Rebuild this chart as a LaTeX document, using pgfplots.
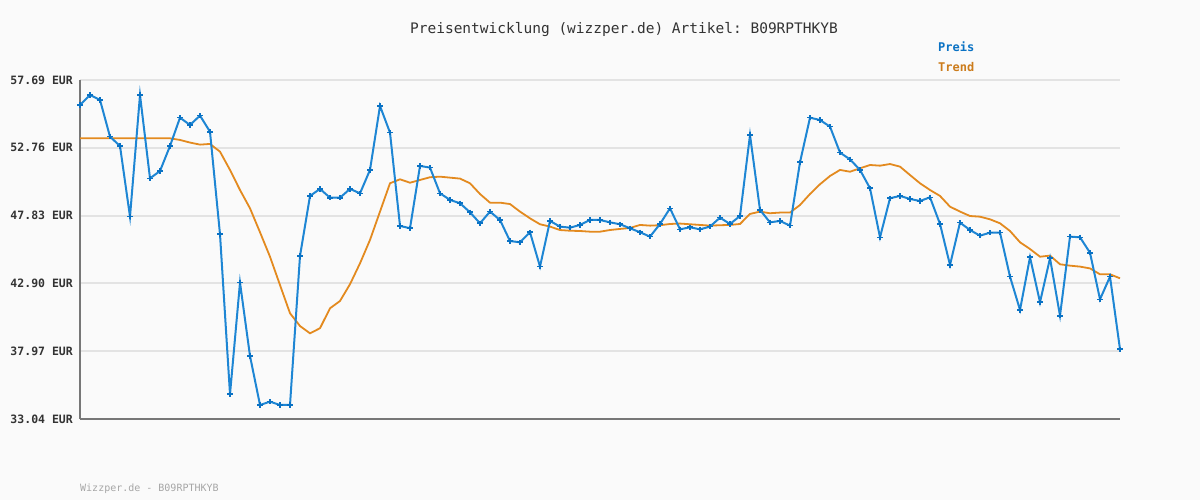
\documentclass[border=0pt]{standalone}
\usepackage{fontspec}
\setmonofont{DejaVu Sans Mono}
\usepackage{pgfplots}
\pgfplotsset{compat=1.18}
\usepackage{pgfplotstable}
\definecolor{bgc}{HTML}{FAFAFA}
\definecolor{gridc}{HTML}{E3E3E3}
\definecolor{axc}{HTML}{777777}
\definecolor{bluec}{HTML}{1E86D4}
\definecolor{bluem}{HTML}{0A72C4}
\definecolor{orangec}{HTML}{E38A1F}
\definecolor{txtc}{HTML}{333333}
\pgfplotstableread{
i price trend
0 55.87 53.45
1 56.60 53.45
2 56.24 53.45
3 53.57 53.45
4 52.89 53.45
5 47.75 53.45
6 56.60 53.45
7 50.54 53.45
8 51.07 53.45
9 52.89 53.45
10 54.95 53.33
11 54.42 53.14
12 55.10 52.99
13 53.93 53.04
14 46.47 52.48
15 34.84 51.15
16 42.96 49.69
17 37.62 48.36
18 34.06 46.62
19 34.30 44.84
20 34.06 42.78
21 34.06 40.73
22 44.89 39.80
23 49.26 39.27
24 49.77 39.64
25 49.13 41.09
26 49.13 41.62
27 49.77 42.84
28 49.45 44.36
29 51.15 46.06
30 55.80 48.12
31 53.86 50.18
32 47.08 50.47
33 46.91 50.22
34 51.44 50.42
35 51.32 50.62
36 49.45 50.66
37 48.97 50.59
38 48.73 50.52
39 48.07 50.18
40 47.27 49.40
41 48.12 48.77
42 47.51 48.77
43 45.98 48.67
44 45.89 48.12
45 46.62 47.63
46 44.12 47.20
47 47.44 47.03
48 47.03 46.78
49 46.95 46.73
50 47.15 46.71
51 47.51 46.66
52 47.51 46.66
53 47.34 46.78
54 47.20 46.86
55 46.91 46.93
56 46.62 47.15
57 46.30 47.10
58 47.22 47.13
59 48.36 47.22
60 46.83 47.25
61 46.98 47.20
62 46.83 47.15
63 47.03 47.10
64 47.68 47.13
65 47.22 47.15
66 47.80 47.22
67 53.69 47.95
68 48.24 48.12
69 47.34 48.00
70 47.44 48.05
71 47.10 48.05
72 51.71 48.60
73 54.95 49.40
74 54.78 50.11
75 54.30 50.71
76 52.41 51.15
77 51.92 51.02
78 51.15 51.27
79 49.82 51.51
80 46.25 51.46
81 49.09 51.58
82 49.26 51.39
83 49.04 50.78
84 48.89 50.18
85 49.16 49.69
86 47.22 49.26
87 44.24 48.48
88 47.32 48.12
89 46.78 47.80
90 46.37 47.75
91 46.59 47.56
92 46.59 47.27
93 43.39 46.71
94 40.97 45.89
95 44.80 45.40
96 41.53 44.84
97 44.73 44.92
98 40.55 44.29
99 46.30 44.19
100 46.25 44.12
101 45.13 43.99
102 41.74 43.56
103 43.39 43.56
104 38.11 43.27
}\datatable
\begin{document}
\begin{tikzpicture}[x=1pt,y=1pt]
\fill[bgc] (0pt,0pt) rectangle (1200pt,500pt);
\begin{axis}[
  at={(80pt,81pt)}, anchor=south west,
  scale only axis, width=1040pt, height=339pt,
  xmin=0, xmax=104, ymin=33.04, ymax=57.69,
  axis x line=bottom, axis y line=left,
  axis line style={-, color=axc, line width=2.2pt},
  xtick=\empty,
  ytick={33.04,37.97,42.90,47.83,52.76,57.69},
  yticklabels={33.04 EUR,37.97 EUR,42.90 EUR,47.83 EUR,52.76 EUR,57.69 EUR},
  yticklabel style={font=\fontsize{11.5}{12}\selectfont\ttfamily\bfseries, text=txtc, anchor=east, inner sep=0pt, xshift=-7pt},
  major tick length=0pt,
  ymajorgrids, grid style={gridc, line width=2pt},
  clip=false,
]
\addplot[orangec, line width=1.8pt] table[x=i,y=trend]{\datatable};
\addplot[bluec, line width=2pt, mark=+, mark size=2.6pt, mark options={bluem, line width=1.6pt}] table[x=i,y=price]{\datatable};
\end{axis}
\node[font=\fontsize{14.5}{16}\selectfont\ttfamily, text=txtc] at (624pt,470pt) {Preisentwicklung (wizzper.de) Artikel: B09RPTHKYB};
\node[font=\fontsize{12}{13}\selectfont\ttfamily\bfseries, text=bluem, anchor=west, inner sep=0pt] at (938pt,453pt) {Preis};
\node[font=\fontsize{12}{13}\selectfont\ttfamily\bfseries, text=orangec!90!black, anchor=west, inner sep=0pt] at (938pt,433pt) {Trend};
\node[font=\fontsize{10}{11}\selectfont\ttfamily, text=black!35, anchor=west, inner sep=0pt] at (80pt,11pt) {Wizzper.de - B09RPTHKYB};
\end{tikzpicture}
\end{document}
